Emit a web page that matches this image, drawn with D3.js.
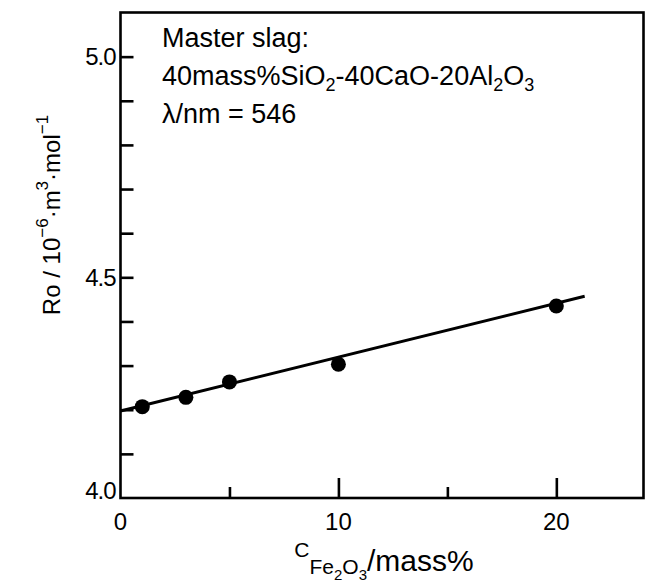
<!DOCTYPE html>
<html>
<head>
<meta charset="utf-8">
<script src="https://cdn.jsdelivr.net/npm/d3@7"></script>
<style>
  html, body { margin: 0; padding: 0; background: #fff; }
  svg { display: block; }
  text { font-family: "Liberation Sans", Arial, sans-serif; fill: #000; }
</style>
</head>
<body>
<div id="chart"></div>
<script>
// Fe2O3 content (mass%) of the measured slags
const feContent = [1, 3, 5, 10, 20];
// Molar refraction Ro (10^-6 m^3/mol)
const roValues = [4.207, 4.228, 4.263, 4.303, 4.435];
// Regression line end points
const fitX = [0, 21.3];
const fitY = [4.197, 4.457];
// Axis ticks
const xMajorTicks = [0, 10, 20];
const xMinorTicks = [5, 15];
const yLabelTicks = [4.0, 4.5, 5.0];
const yMinorTicks = [4.1, 4.2, 4.3, 4.4, 4.5, 4.6, 4.7, 4.8, 4.9, 5.0];

const W = 650, H = 588;
const margin = { left: 120.5, top: 12.5, right: 6.5, bottom: 90 };
const innerW = W - margin.left - margin.right;
const innerH = H - margin.top - margin.bottom;

const svg = d3.select("#chart").append("svg")
  .attr("width", W).attr("height", H);

const g = svg.append("g")
  .attr("transform", `translate(${margin.left},${margin.top})`);

const x = d3.scaleLinear().domain([0, 24]).range([0, innerW]);
const y = d3.scaleLinear().domain([4.0, 5.1]).range([innerH, 0]);

const lw = 2.6;

// Frame
g.append("rect")
  .attr("x", 0).attr("y", 0)
  .attr("width", innerW).attr("height", innerH)
  .attr("fill", "none").attr("stroke", "#000").attr("stroke-width", lw);

// Bottom axis: inward ticks (major longer than minor)
const xAxisMajor = d3.axisBottom(x).tickValues(xMajorTicks.filter(d => d > 0))
  .tickSizeInner(-20).tickSizeOuter(0).tickFormat("");
const xAxisMinor = d3.axisBottom(x).tickValues(xMinorTicks)
  .tickSizeInner(-11).tickSizeOuter(0).tickFormat("");
[xAxisMajor, xAxisMinor].forEach(ax => {
  const a = g.append("g").attr("transform", `translate(0,${innerH})`).call(ax);
  a.select(".domain").remove();
  a.selectAll("line").attr("stroke", "#000").attr("stroke-width", lw);
});

// X tick labels
g.append("g").selectAll("text").data(xMajorTicks).join("text")
  .attr("x", d => x(d))
  .attr("y", innerH + 32)
  .attr("text-anchor", "middle")
  .attr("font-size", 24)
  .text(d => d);

// Left axis: inward ticks
const yAxis = d3.axisLeft(y).tickValues(yMinorTicks)
  .tickSizeInner(-13).tickSizeOuter(0).tickFormat("");
const ya = g.append("g").call(yAxis);
ya.select(".domain").remove();
ya.selectAll("line").attr("stroke", "#000").attr("stroke-width", lw);

// Y tick labels
g.append("g").selectAll("text").data(yLabelTicks).join("text")
  .attr("x", -5)
  .attr("y", d => y(d) + (d === 4.0 ? -8 : 0))
  .attr("dy", "0.36em")
  .attr("text-anchor", "end")
  .attr("font-size", 24)
  .attr("letter-spacing", -1)
  .text(d => d.toFixed(1));

// Regression line
g.append("line")
  .attr("x1", x(fitX[0])).attr("y1", y(fitY[0]))
  .attr("x2", x(fitX[1])).attr("y2", y(fitY[1]))
  .attr("stroke", "#000").attr("stroke-width", 3);

// Measured points
g.append("g").selectAll("circle").data(feContent).join("circle")
  .attr("cx", d => x(d))
  .attr("cy", (d, i) => y(roValues[i]))
  .attr("r", 7.5)
  .attr("fill", "#000");

// Annotation block
const note = svg.append("g").attr("font-size", 27);
note.append("text").attr("x", 162).attr("y", 47).text("Master slag:");
const l2 = note.append("text").attr("x", 162).attr("y", 85);
l2.append("tspan").text("40mass%SiO");
l2.append("tspan").attr("font-size", 18).attr("dy", 6).text("2");
l2.append("tspan").attr("dy", -6).text("-40CaO-20Al");
l2.append("tspan").attr("font-size", 18).attr("dy", 6).text("2");
l2.append("tspan").attr("dy", -6).text("O");
l2.append("tspan").attr("font-size", 18).attr("dy", 6).text("3");
note.append("text").attr("x", 162).attr("y", 123).text("λ/nm = 546");

// Y axis title
const yt = svg.append("text")
  .attr("transform", "translate(60,215) rotate(-90)")
  .attr("text-anchor", "middle")
  .attr("font-size", 24);
yt.append("tspan").text("Ro / 10");
yt.append("tspan").attr("font-size", 17).attr("dy", -12).text("−6");
yt.append("tspan").attr("dy", 12).text("·m");
yt.append("tspan").attr("font-size", 17).attr("dy", -12).text("3");
yt.append("tspan").attr("dy", 12).text("·mol");
yt.append("tspan").attr("font-size", 17).attr("dy", -12).text("−1");

// X axis title: C with a lowered Fe2O3 subscript
const xt = svg.append("text")
  .attr("x", 384)
  .attr("y", 571)
  .attr("text-anchor", "middle")
  .attr("font-size", 30);
xt.append("tspan").attr("font-size", 21).attr("dy", -14).text("C");
xt.append("tspan").attr("font-size", 21).attr("dy", 17).text("Fe");
xt.append("tspan").attr("font-size", 15).attr("dy", 6).text("2");
xt.append("tspan").attr("font-size", 21).attr("dy", -6).text("O");
xt.append("tspan").attr("font-size", 15).attr("dy", 6).text("3");
xt.append("tspan").attr("dy", -9).text("/mass%");
</script>
</body>
</html>
